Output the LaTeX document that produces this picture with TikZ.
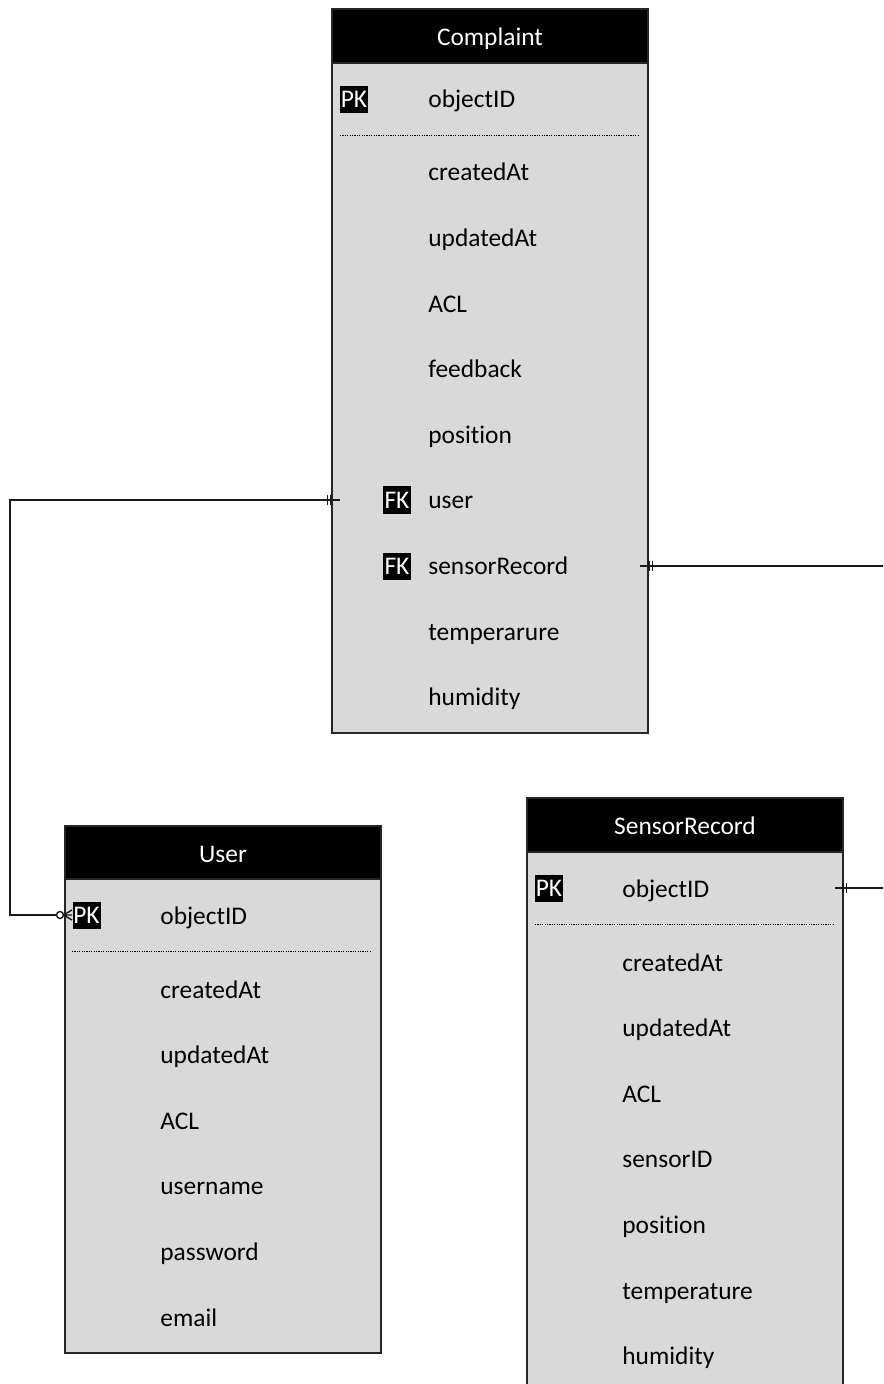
\documentclass[tikz,border=0pt]{standalone}
\usepackage{fontspec}
\setmainfont{Carlito}[Ligatures=NoCommon]
\definecolor{rowgrey}{HTML}{D9D9D9}
\newcommand\ertfont{\fontsize{12.7}{15}\selectfont}
\tikzset{
  px/.style={x=0.5pt,y=-0.5pt},
  tablebody/.style={draw=black!85,line width=0.55pt,fill=rowgrey},
  tablehead/.style={draw=black!85,line width=0.55pt,fill=black},
  tabletitle/.style={anchor=base,text=white,font=\ertfont,inner sep=0pt},
  field/.style={anchor=base west,font=\ertfont,inner sep=0pt},
  keybadge/.style={fill=black,text=white,font=\ertfont,inner sep=0pt,
    minimum width=14pt,minimum height=13.5pt,text height=8.2pt,text depth=0pt},
  keyrule/.style={line width=0.4pt,dash pattern=on 0.6pt off 0.6pt},
  relation/.style={line width=0.7pt,draw=black!90},
  tickmark/.style={line width=0.7pt,draw=black!90}
}
\begin{document}
\begin{tikzpicture}[px]
\clip (0,0) rectangle (883,1384);

% ---------- Complaint ----------
\draw[tablebody] (332,9) rectangle (648,733);
\draw[tablehead] (332,9) rectangle (648,63);
\node[tabletitle] (cTitle) at (490,45.5) {Complaint};
\node[keybadge] (cPK) at (354,99.5) {PK};
\node[field] (cobjectID) at (428,108) {objectID};
\draw[keyrule] (340,135) -- (639,135);
\foreach \t [count=\i from 0] in {createdAt,updatedAt,ACL,feedback,position,user,sensorRecord,temperarure,humidity}
  \node[field] (c\t) at (428,{181+65.6*\i}) {\t};
\node[keybadge] (cFKuser) at (397,500) {FK};
\node[keybadge] (cFKsensor) at (397,566) {FK};

% ---------- User ----------
\draw[tablebody] (65,826) rectangle (381,1353);
\draw[tablehead] (65,826) rectangle (381,879);
\node[tabletitle] (uTitle) at (223,862.5) {User};
\node[keybadge] (uPK) at (86.5,915.5) {PK};
\node[field] (uobjectID) at (160,924) {objectID};
\draw[keyrule] (72,951) -- (372,951);
\foreach \t [count=\i from 0] in {createdAt,updatedAt,ACL,username,password,email}
  \node[field] (u\t) at (160,{998+65.6*\i}) {\t};

% ---------- SensorRecord ----------
\draw[tablebody] (527,798) rectangle (843,1400);
\draw[tablehead] (527,798) rectangle (843,852);
\node[tabletitle] (sTitle) at (685,834.5) {SensorRecord};
\node[keybadge] (sPK) at (549,888.5) {PK};
\node[field] (sobjectID) at (622,897) {objectID};
\draw[keyrule] (535,924) -- (834,924);
\foreach \t [count=\i from 0] in {createdAt,updatedAt,ACL,sensorID,position,temperature,humidity}
  \node[field] (s\t) at (622,{971+65.6*\i}) {\t};

% ---------- relations ----------
\coordinate (cUserEnd) at (340,500);
\coordinate (uPKEnd) at (56.5,915);
\draw[relation] (cUserEnd) -- (10,500) |- (uPKEnd);
\draw[tickmark] (327.5,495) -- (327.5,505) (330.7,495) -- (330.7,505);
\draw[relation,fill=white] (60,915) circle[radius=3.5];
\draw[relation] (72,910) -- (63.5,915) -- (72,920) (63.5,915) -- (72,915);

\coordinate (cSensorEnd) at (640,566);
\coordinate (sPKEnd) at (835,888);
\draw[relation] (cSensorEnd) -- (900,566) |- (sPKEnd);
\draw[tickmark] (649,561) -- (649,571) (652.5,561) -- (652.5,571);
\draw[tickmark] (843,883) -- (843,893) (846.7,883) -- (846.7,893);
\end{tikzpicture}
\end{document}
